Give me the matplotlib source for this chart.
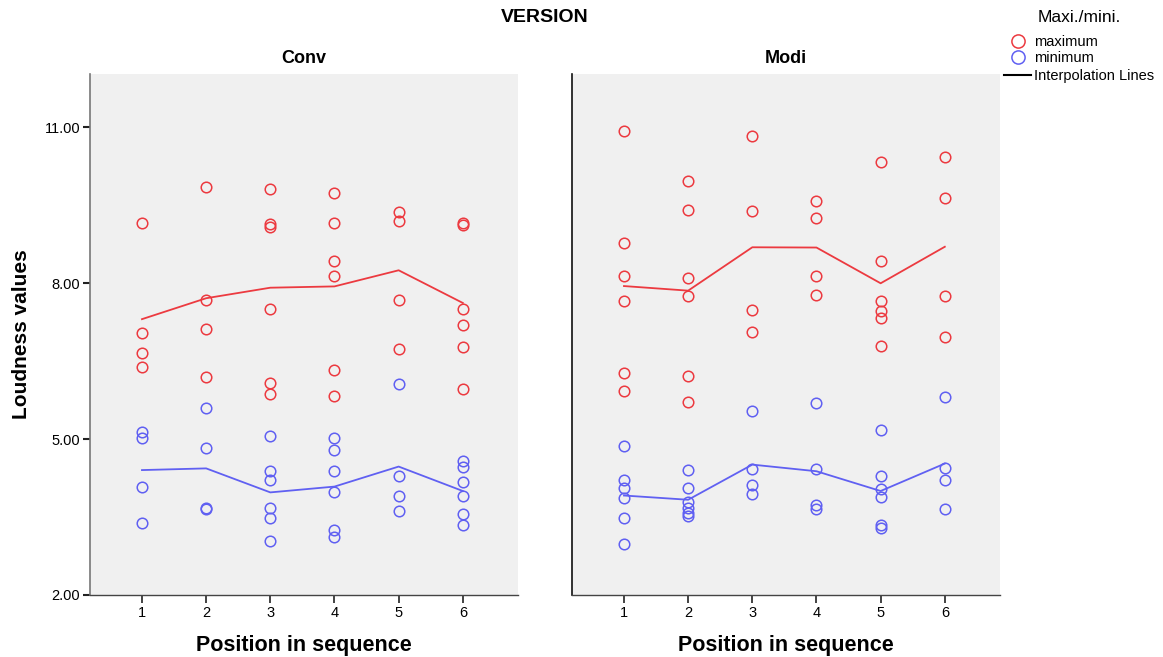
import matplotlib
matplotlib.use("Agg")
import matplotlib.pyplot as plt
from matplotlib.lines import Line2D
import numpy as np

plt.rcParams['font.family'] = ['Liberation Sans', 'DejaVu Sans']

positions = [1, 2, 3, 4, 5, 6]
panels = ["Conv", "Modi"]

# Conv panel values per position
conv_max = [
    [9.16, 7.03, 6.65, 6.38],
    [9.84, 7.67, 7.12, 6.20],
    [9.80, 9.13, 9.08, 7.51, 6.07, 5.87],
    [9.74, 9.16, 8.42, 8.13, 6.33, 5.83],
    [9.37, 9.19, 7.68, 6.74],
    [9.16, 9.11, 7.51, 7.19, 6.77, 5.96],
]
conv_min = [
    [5.14, 5.01, 4.07, 3.39],
    [5.59, 4.83, 3.67, 3.65],
    [5.05, 4.39, 4.21, 3.67, 3.48, 3.04],
    [5.01, 4.78, 4.38, 3.98, 3.25, 3.11],
    [6.06, 4.29, 3.91, 3.62],
    [4.57, 4.46, 4.17, 3.90, 3.55, 3.35],
]
# Modi panel values per position
modi_max = [
    [10.92, 8.77, 8.13, 7.65, 6.26, 5.92],
    [9.96, 9.40, 8.09, 7.75, 6.21, 5.71],
    [10.82, 9.39, 7.49, 7.05],
    [9.57, 9.26, 8.13, 7.77],
    [10.32, 8.42, 7.65, 7.46, 7.33, 6.79],
    [10.42, 9.64, 7.76, 6.97],
]
modi_min = [
    [4.87, 4.22, 4.06, 3.86, 3.49, 2.98],
    [4.40, 4.06, 3.78, 3.67, 3.57, 3.51],
    [5.54, 4.43, 4.12, 3.94],
    [5.70, 4.43, 3.74, 3.65],
    [5.18, 4.28, 4.03, 3.88, 3.35, 3.28],
    [5.81, 4.44, 4.21, 3.65],
]
y_ticks = [2, 5, 8, 11]
y_tick_labels = ["2.00", "5.00", "8.00", "11.00"]
legend_labels = ["maximum", "minimum", "Interpolation Lines"]

RED = "#ec3a40"
BLUE = "#6060f2"
BG = "#f0f0f0"

fig = plt.figure(figsize=(11.63, 6.57), dpi=100)
W, H = 1163, 657

def fx(px):
    return px / W

def fy(py):
    return 1 - py / H

def make_ax(x0, x1, y0, y1):
    return fig.add_axes([fx(x0), fy(y1), (x1 - x0) / W, (y1 - y0) / H])

ax_l = make_ax(90, 518, 74, 595)
ax_r = make_ax(572, 1000, 74, 595)

for ax, name, mx, mn in [(ax_l, "Conv", conv_max, conv_min),
                         (ax_r, "Modi", modi_max, modi_min)]:
    ax.set_facecolor(BG)
    for series, col in [(mx, RED), (mn, BLUE)]:
        xs = np.concatenate([[p] * len(v) for p, v in zip(positions, series)])
        ys = np.concatenate(series)
        ax.plot(xs, ys, linestyle="none", marker="o", markersize=7.6,
                markerfacecolor="none", markeredgecolor=col, markeredgewidth=1.1,
                zorder=3)
        means = [np.mean(v) for v in series]
        ax.plot(positions, means, color=col, linewidth=1.3, zorder=2)
    ax.set_xlim(0.19, 6.86)
    ax.set_ylim(2, 12.02)
    ax.set_xticks(positions)
    ax.set_xticklabels([str(p) for p in positions], fontsize=10.5)
    ax.tick_params(axis="x", direction="out", length=6, width=1.2, color="#222222", pad=2)
    for s in ["top", "right"]:
        ax.spines[s].set_visible(False)
    ax.spines["bottom"].set_color("#444444")
    ax.spines["left"].set_color("#444444")
    ax.spines["bottom"].set_linewidth(1.0)
    ax.spines["left"].set_linewidth(1.2)
    ax.set_xlabel("Position in sequence", fontsize=15.5, fontweight="bold", labelpad=11)
    ax.set_title(name, fontsize=13, fontweight="bold", pad=8)

ax_l.set_yticks(y_ticks)
ax_l.set_yticklabels(y_tick_labels, fontsize=10.5)
ax_l.tick_params(axis="y", direction="out", length=5, width=1.5, color="#222222", pad=2)
ax_l.set_ylabel("Loudness values", fontsize=15, fontweight="bold", labelpad=10)
ax_l.spines["left"].set_color("#777777")

ax_r.set_yticks([])
ax_r.spines["left"].set_color("#111111")

fig.text(fx(545), fy(17), "VERSION", ha="center", va="center",
         fontsize=14, fontweight="bold")

# legend (drawn manually in figure coordinates)
fig.text(fx(1079), fy(17), "Maxi./mini.", ha="center", va="center", fontsize=12.5)
for i, (lab, col) in enumerate(zip(legend_labels, [RED, BLUE, "black"])):
    yc = [41, 57, 75][i]
    if i < 2:
        fig.add_artist(Line2D([fx(1018)], [fy(yc)], transform=fig.transFigure,
                              linestyle="none", marker="o", markersize=9.5,
                              markerfacecolor="none", markeredgecolor=col,
                              markeredgewidth=1.1))
    else:
        fig.add_artist(Line2D([fx(1004), fx(1031)], [fy(yc), fy(yc)],
                              transform=fig.transFigure, color=col, linewidth=1.5))
    fig.text(fx(1034), fy(yc + 1), lab, ha="left", va="center", fontsize=10.5)

fig.savefig("out.png", dpi=100)
